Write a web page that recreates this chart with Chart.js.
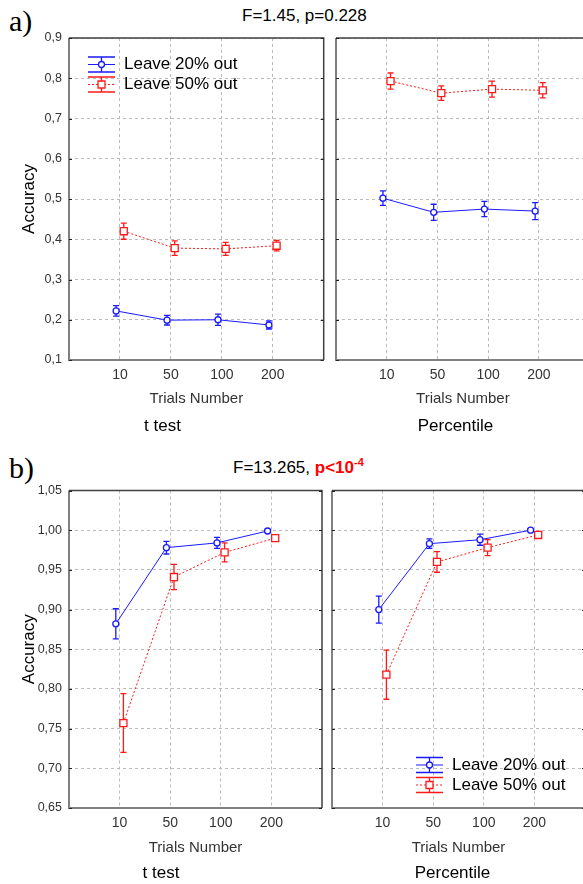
<!DOCTYPE html>
<html>
<head>
<meta charset="utf-8">
<script src="https://cdn.jsdelivr.net/npm/chart.js@4.4.0/dist/chart.umd.min.js"></script>
<style>
  html, body { margin:0; padding:0; overflow:hidden; background:#fff; }
  #page { position:relative; width:583px; height:884px; overflow:hidden; background:#fff; }
  canvas { position:absolute; }
  .lbl { position:absolute; font-family:"Liberation Serif", "Times New Roman", serif; font-size:30px; line-height:30px; }
  .ttl { position:absolute; font-family:"Liberation Sans", Arial, sans-serif; font-size:17px; line-height:20px; white-space:nowrap; }
  .ttl sup { font-size:11px; vertical-align:7px; line-height:0; }
</style>
</head>
<body>
<div id="page">
  <div class="lbl" style="left:9px;top:6px">a)</div>
  <div class="ttl" style="left:242px;top:6px">F=1.45, p=0.228</div>
  <canvas id="aL" width="330" height="440" style="left:0;top:0"></canvas>
  <canvas id="aR" width="276" height="440" style="left:320px;top:0"></canvas>

  <div class="lbl" style="left:9px;top:453px">b)</div>
  <div class="ttl" style="left:233px;top:458px">F=13.265, <span style="color:#f00;font-weight:bold">p&lt;10<sup>-4</sup></span></div>
  <canvas id="bL" width="330" height="444" style="left:0;top:440px"></canvas>
  <canvas id="bR" width="273" height="444" style="left:320px;top:440px"></canvas>
</div>
<script>
// categories on the x axis
const categories = ['10', '50', '100', '200']

// a) t test
const aTest20 = [0.222, 0.199, 0.200, 0.187]
const aTest20Err = [0.013, 0.012, 0.014, 0.010]
const aTest50 = [0.420, 0.378, 0.376, 0.384]
const aTest50Err = [0.020, 0.018, 0.016, 0.013]
// a) Percentile
const aPerc20 = [0.502, 0.467, 0.475, 0.470]
const aPerc20Err = [0.018, 0.020, 0.019, 0.021]
const aPerc50 = [0.793, 0.763, 0.773, 0.770]
const aPerc50Err = [0.020, 0.018, 0.020, 0.019]

// b) t test
const bTest20 = [0.882, 0.978, 0.984, 0.999]
const bTest20Err = [0.019, 0.008, 0.007, 0.002]
const bTest50 = [0.757, 0.941, 0.972, 0.990]
const bTest50Err = [0.037, 0.016, 0.012, 0.004]
// b) Percentile
const bPerc20 = [0.900, 0.983, 0.988, 1.000]
const bPerc20Err = [0.017, 0.006, 0.007, 0.002]
const bPerc50 = [0.818, 0.960, 0.978, 0.994]
const bPerc50Err = [0.031, 0.013, 0.010, 0.003]

const seriesNames = ['Leave 20% out', 'Leave 50% out']

const BLUE = '#1a1aff'
const RED = '#ff1a1a'
const DODGE = 0.075

Chart.defaults.font.family = '"Liberation Sans", Arial, sans-serif'
Chart.defaults.color = '#333'

// frame + error bars, drawn under the markers
const errorBars = {
  id: 'errorBars',
  beforeDatasetsDraw(chart) {
    const ctx = chart.ctx
    const ys = chart.scales.y
    const a = chart.chartArea
    ctx.save()
    // left / bottom lighter, top / right darker
    ctx.lineWidth = 2
    ctx.strokeStyle = '#808080'
    ctx.beginPath()
    ctx.moveTo(a.left, a.top); ctx.lineTo(a.left, a.bottom); ctx.lineTo(a.right, a.bottom)
    ctx.stroke()
    ctx.lineWidth = 1.5
    ctx.strokeStyle = '#404040'
    ctx.beginPath()
    ctx.moveTo(a.left, a.top); ctx.lineTo(a.right, a.top); ctx.lineTo(a.right, a.bottom)
    ctx.stroke()
    // small inner ticks on the side borders
    ctx.lineWidth = 1
    ctx.strokeStyle = '#222'
    ctx.beginPath()
    ys.ticks.forEach(t => {
      const py = Math.round(ys.getPixelForValue(t.value)) + 0.5
      ctx.moveTo(a.left, py); ctx.lineTo(a.left + 3, py)
      ctx.moveTo(a.right - 3, py); ctx.lineTo(a.right, py)
    })
    ctx.stroke()
    ctx.restore()
    chart.data.datasets.forEach((ds, di) => {
      const meta = chart.getDatasetMeta(di)
      ctx.save()
      ctx.strokeStyle = ds.borderColor
      ctx.lineWidth = 1.3
      meta.data.forEach((pt, i) => {
        const v = ds.data[i].y, e = ds.errors[i]
        const top = ys.getPixelForValue(v + e), bot = ys.getPixelForValue(v - e)
        ctx.beginPath()
        ctx.moveTo(pt.x, top); ctx.lineTo(pt.x, bot)
        ctx.moveTo(pt.x - 3, top); ctx.lineTo(pt.x + 3, top)
        ctx.moveTo(pt.x - 3, bot); ctx.lineTo(pt.x + 3, bot)
        ctx.stroke()
      })
      ctx.restore()
    })
  }
}

// legend with error bar symbol
const boxLegend = {
  id: 'boxLegend',
  afterDraw(chart, args, opts) {
    if (!opts.show) return
    const ctx = chart.ctx
    const a = chart.chartArea
    chart.data.datasets.forEach((ds, i) => {
      const x0 = a.left + opts.dx
      const yc = a.top + opts.dy + i * 20
      const w = 27, cx = x0 + w / 2
      ctx.save()
      ctx.strokeStyle = ds.borderColor
      ctx.lineWidth = 1.3
      ctx.beginPath()
      ctx.moveTo(x0, yc - 7.5); ctx.lineTo(x0 + w, yc - 7.5)
      ctx.moveTo(x0, yc + 7.5); ctx.lineTo(x0 + w, yc + 7.5)
      ctx.moveTo(cx, yc - 7.5); ctx.lineTo(cx, yc + 7.5)
      ctx.stroke()
      ctx.lineWidth = 1
      ctx.setLineDash(ds.borderDash || [])
      ctx.beginPath()
      ctx.moveTo(x0, yc); ctx.lineTo(x0 + w, yc)
      ctx.stroke()
      ctx.setLineDash([])
      ctx.fillStyle = '#fff'
      ctx.lineWidth = 1.3
      ctx.beginPath()
      if (ds.pointStyle === 'rect') ctx.rect(cx - 3.5, yc - 3.5, 7, 7)
      else ctx.arc(cx, yc, 3, 0, Math.PI * 2)
      ctx.fill(); ctx.stroke()
      ctx.fillStyle = '#000'
      ctx.font = '17px "Liberation Sans", Arial, sans-serif'
      ctx.textBaseline = 'middle'
      ctx.fillText(seriesNames[i], x0 + w + 9, yc)
      ctx.restore()
    })
  }
}

function makeSet(i, vals, errs) {
  const blue = i === 0
  return {
    label: seriesNames[i],
    data: vals.map((v, k) => ({ x: k + 1 + (blue ? -DODGE : DODGE), y: v })),
    errors: errs,
    borderColor: blue ? BLUE : RED,
    backgroundColor: '#fff',
    borderWidth: 1,
    borderDash: blue ? [] : [2, 2],
    pointStyle: blue ? 'circle' : 'rect',
    pointRadius: blue ? 3 : 5,
    pointBorderWidth: 1.3,
    pointBackgroundColor: '#fff',
    pointBorderColor: blue ? BLUE : RED,
    tension: 0
  }
}

function makeChart(id, sets, o) {
  const yFmt = v => v.toFixed(o.dec).replace('.', ',')
  new Chart(document.getElementById(id), {
    type: 'line',
    data: { datasets: sets },
    options: {
      responsive: false,
      animation: false,
      layout: { padding: { top: o.padTop, right: o.padRight, left: 0, bottom: 0 } },
      scales: {
        x: {
          type: 'linear', min: 0, max: 5,
          afterBuildTicks: s => { s.ticks = categories.map((c, k) => ({ value: k + 1 })) },
          ticks: { callback: v => categories[v - 1], font: { size: 14 }, color: '#333', padding: 7, maxRotation: 0, autoSkip: false },
          grid: { color: '#bbb', drawTicks: false },
          border: { display: false, dash: [3, 3] },
          title: { display: true, text: 'Trials Number', font: { size: 15 }, color: '#333', padding: { top: 0, bottom: o.xTitlePad } },
          afterFit: s => { s.height = o.xHeight }
        },
        y: {
          type: 'linear', min: o.yMin, max: o.yMax,
          ticks: { stepSize: o.yStep, callback: yFmt, font: { size: 12.5 }, color: '#333', padding: 7, display: o.showY },
          grid: { color: '#bbb', drawTicks: false },
          border: { display: false, dash: [3, 3] },
          title: { display: o.showY, text: 'Accuracy', font: { size: 17 }, color: '#000', padding: { top: 19, bottom: 0 } },
          afterFit: s => { s.width = o.yWidth }
        }
      },
      plugins: {
        legend: { display: false },
        tooltip: { enabled: false },
        title: { display: true, position: 'bottom', text: o.name, font: { size: 17, weight: 'normal' }, color: '#000', padding: { top: o.tPadTop, bottom: o.tPadBottom } },
        boxLegend: o.legend || { show: false }
      }
    },
    plugins: [errorBars, boxLegend]
  })
}

const aOpts = { yMin: 0.1, yMax: 0.9, yStep: 0.1, dec: 1, padTop: 38, xHeight: 50, xTitlePad: 2, tPadTop: 6.6, tPadBottom: 3 }
const bOpts = { yMin: 0.65, yMax: 1.05, yStep: 0.05, dec: 2, padTop: 50.5, xHeight: 55.6, xTitlePad: 7, tPadTop: 0, tPadBottom: 0 }

makeChart('aL', [makeSet(0, aTest20, aTest20Err), makeSet(1, aTest50, aTest50Err)],
  Object.assign({}, aOpts, { name: 't test', showY: true, yWidth: 69, padRight: 5, legend: { show: true, dx: 19, dy: 26.5 } }))
makeChart('aR', [makeSet(0, aPerc20, aPerc20Err), makeSet(1, aPerc50, aPerc50Err)],
  Object.assign({}, aOpts, { name: 'Percentile', showY: false, yWidth: 16, padRight: 5 }))
makeChart('bL', [makeSet(0, bTest20, bTest20Err), makeSet(1, bTest50, bTest50Err)],
  Object.assign({}, bOpts, { name: 't test', showY: true, yWidth: 69, padRight: 8 }))
makeChart('bR', [makeSet(0, bPerc20, bPerc20Err), makeSet(1, bPerc50, bPerc50Err)],
  Object.assign({}, bOpts, { name: 'Percentile', showY: false, yWidth: 12, padRight: 8, legend: { show: true, dx: 84, dy: 274.5 } }))
</script>
</body>
</html>
